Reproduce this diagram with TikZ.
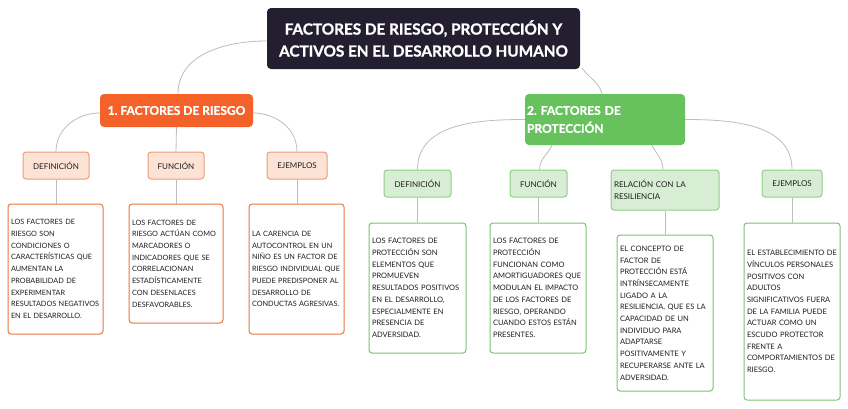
\documentclass[tikz,border=0pt]{standalone}
\usepackage{fontspec}
\setmainfont{Lato}[BoldFeatures={FakeBold=1.2}]
\frenchspacing
\definecolor{rootc}{HTML}{231F30}
\definecolor{orng}{HTML}{F4622A}
\definecolor{peach}{HTML}{FDE3D5}
\definecolor{peachb}{HTML}{EE9C78}
\definecolor{orleaf}{HTML}{EB7640}
\definecolor{grn}{HTML}{67C25E}
\definecolor{lgrn}{HTML}{D8EED4}
\definecolor{lgrnb}{HTML}{8FCF87}
\definecolor{grleaf}{HTML}{7CC474}
\definecolor{conn}{HTML}{BDBDBD}
\definecolor{txt}{HTML}{1E1E1E}
\tikzset{
  rootbox/.style={fill=rootc, rounded corners=4pt, text=white, font=\fontsize{15.3}{22}\selectfont\bfseries, align=center, minimum width=313pt, minimum height=61pt, inner sep=0pt},
  orbox/.style={fill=orng, rounded corners=4pt, text=white, font=\fontsize{12}{18}\selectfont\bfseries, align=center, minimum width=153pt, minimum height=33pt, inner sep=0pt},
  grbox/.style={fill=grn, rounded corners=4pt, text=white, font=\fontsize{12}{18}\selectfont\bfseries, align=left, text width=156pt, minimum height=51pt, inner xsep=2pt, inner ysep=0pt},
  orsub/.style={draw=peachb, fill=peach, line width=1pt, rounded corners=3pt, text=txt, font=\fontsize{8}{12}\selectfont, minimum height=27pt, inner sep=0pt},
  grsub/.style={draw=lgrnb, fill=lgrn, line width=1pt, rounded corners=3pt, text=txt, font=\fontsize{8}{12}\selectfont, minimum height=27pt, inner sep=0pt},
  orleafbox/.style={draw=orleaf, fill=white, line width=1pt, rounded corners=3pt, text=txt, font=\fontsize{7.3}{11.7}\selectfont, align=left, inner xsep=3pt, inner ysep=0pt},
  grleafbox/.style={draw=grleaf, fill=white, line width=1pt, rounded corners=3pt, text=txt, font=\fontsize{7.5}{11.7}\selectfont, align=left, inner xsep=3pt, inner ysep=0pt},
  link/.style={draw=conn, line width=0.8pt},
}
\begin{document}
\begin{tikzpicture}[x=1pt,y=-1pt]
\useasboundingbox (0,0) rectangle (848,408);
\fill[white] (0,0) rectangle (848,408);

\coordinate (rl) at (267,41);
\coordinate (rr) at (582,68);

\node[rootbox] (root) at (423.5,38.5) {FACTORES DE RIESGO, PROTECCIÓN Y\\ACTIVOS EN EL DESARROLLO HUMANO};
\node[orbox] (o1) at (176.5,110.5) {1. FACTORES DE RIESGO};
\node[grbox] (g1) at (605,119.5) {2. FACTORES DE\\PROTECCIÓN};

\node[orsub, minimum width=66pt] (od) at (56,165.5) {DEFINICIÓN};
\node[orsub, minimum width=56pt] (of) at (176,165.5) {FUNCIÓN};
\node[orsub, minimum width=60pt] (oe) at (297,165.5) {EJEMPLOS};

\node[grsub, minimum width=67pt] (gd) at (417.5,183.5) {DEFINICIÓN};
\node[grsub, minimum width=57pt] (gf) at (538.5,183.5) {FUNCIÓN};
\node[grsub, text width=102pt, align=left, inner xsep=3pt, minimum height=40pt] (gr) at (665,190) {RELACIÓN CON LA\\RESILIENCIA};
\node[grsub, minimum width=60pt] (ge) at (792,183.5) {EJEMPLOS};

\node[orleafbox, text width=89pt, minimum height=130pt] (ol1) at (55.5,269) {LOS FACTORES DE\\RIESGO SON\\CONDICIONES O\\CARACTERÍSTICAS QUE\\AUMENTAN LA\\PROBABILIDAD DE\\EXPERIMENTAR\\RESULTADOS NEGATIVOS\\EN EL DESARROLLO.};
\node[orleafbox, text width=88pt, minimum height=119pt] (ol2) at (176,263.5) {LOS FACTORES DE\\RIESGO ACTÚAN COMO\\MARCADORES O\\INDICADORES QUE SE\\CORRELACIONAN\\ESTADÍSTICAMENTE\\CON DESENLACES\\DESFAVORABLES.};
\node[orleafbox, text width=89pt, minimum height=130pt] (ol3) at (296.5,269) {LA CARENCIA DE\\AUTOCONTROL EN UN\\NIÑO ES UN FACTOR DE\\RIESGO INDIVIDUAL QUE\\PUEDE PREDISPONER AL\\DESARROLLO DE\\CONDUCTAS AGRESIVAS.};

\node[grleafbox, text width=91pt, minimum height=130pt] (gl1) at (417.5,288) {LOS FACTORES DE\\PROTECCIÓN SON\\ELEMENTOS QUE\\PROMUEVEN\\RESULTADOS POSITIVOS\\EN EL DESARROLLO,\\ESPECIALMENTE EN\\PRESENCIA DE\\ADVERSIDAD.};
\node[grleafbox, text width=90pt, minimum height=130pt] (gl2) at (538,288) {LOS FACTORES DE\\PROTECCIÓN\\FUNCIONAN COMO\\AMORTIGUADORES QUE\\MODULAN EL IMPACTO\\DE LOS FACTORES DE\\RIESGO, OPERANDO\\CUANDO ESTOS ESTÁN\\PRESENTES.};
\node[grleafbox, text width=90pt, minimum height=156pt] (gl3) at (665,313) {EL CONCEPTO DE\\FACTOR DE\\PROTECCIÓN ESTÁ\\INTRÍNSECAMENTE\\LIGADO A LA\\RESILIENCIA, QUE ES LA\\CAPACIDAD DE UN\\INDIVIDUO PARA\\ADAPTARSE\\POSITIVAMENTE Y\\RECUPERARSE ANTE LA\\ADVERSIDAD.};
\node[grleafbox, text width=90pt, minimum height=177pt] (gl4) at (792,311.5) {EL ESTABLECIMIENTO DE\\VÍNCULOS PERSONALES\\POSITIVOS CON\\ADULTOS\\SIGNIFICATIVOS FUERA\\DE LA FAMILIA PUEDE\\ACTUAR COMO UN\\ESCUDO PROTECTOR\\FRENTE A\\COMPORTAMIENTOS DE\\RIESGO.};

% connectors
\draw[link] (rl) to[out=180,in=90] ([xshift=1.5pt]o1.north);
\draw[link] (rr) to[out=-55,in=105] ([xshift=-3pt]g1.north);

\draw[link] ([yshift=-2.5pt]o1.west) to[out=180,in=90] (od.north);
\draw[link] (o1.south) -- (of.north);
\draw[link] ([yshift=-2.5pt]o1.east) to[out=0,in=90] (oe.north);

\draw[link] (od.south) -- (ol1.north -| od.south);
\draw[link] (of.south) -- (ol2.north -| of.south);
\draw[link] (oe.south) -- (ol3.north -| oe.south);

\draw[link] (g1.west) to[out=180,in=90] (gd.north);
\draw[link] ([xshift=-53pt]g1.south) to[out=-115,in=90] ([xshift=1pt]gf.north);
\draw[link] ([xshift=47pt]g1.south) to[out=-65,in=90] ([xshift=-2pt]gr.north);
\draw[link] (g1.east) to[out=0,in=90] (ge.north);

\draw[link] (gd.south) -- (gl1.north -| gd.south);
\draw[link] (gf.south) -- (gl2.north -| gf.south);
\draw[link] (gr.south) -- (gl3.north -| gr.south);
\draw[link] (ge.south) -- (gl4.north -| ge.south);
\end{tikzpicture}
\end{document}
